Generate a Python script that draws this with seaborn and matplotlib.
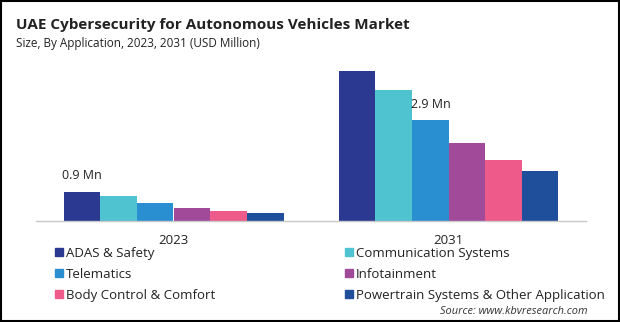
import matplotlib
matplotlib.use("Agg")
import matplotlib.pyplot as plt
from matplotlib.lines import Line2D
from matplotlib.patches import Rectangle
import seaborn as sns
import pandas as pd

years = ["2023", "2031"]
applications = ["ADAS & Safety", "Communication Systems", "Telematics",
                "Infotainment", "Body Control & Comfort",
                "Powertrain Systems & Other Application"]
values_2023 = [0.90, 0.78, 0.56, 0.40, 0.31, 0.25]
values_2031 = [4.66, 4.07, 3.14, 2.42, 1.89, 1.55]
colors = ["#2B3990", "#4FC3CF", "#2A8FD0", "#A24A9A", "#EE5A8A", "#1F4E9A"]
labels = ["0.9 Mn", "2.9 Mn"]

rows = []
for app, v1, v2 in zip(applications, values_2023, values_2031):
    rows.append({"Year": years[0], "Application": app, "Value": v1})
    rows.append({"Year": years[1], "Application": app, "Value": v2})
df = pd.DataFrame(rows)

sns.set_theme(style="white")
plt.rcParams["font.family"] = ["Open Sans", "DejaVu Sans"]

fig = plt.figure(figsize=(6.2, 3.22), dpi=100)
ax = fig.add_axes([36/620, 1-221/322, 550/620, 161/322])
sns.barplot(data=df, x="Year", y="Value", hue="Application",
            hue_order=applications, order=years, palette=colors,
            width=0.8, saturation=1, ax=ax, legend=False, errorbar=None,
            linewidth=0, edgecolor="none")
ax.set_xlim(-0.5, 1.5)
ax.set_ylim(0, 5.0)
ax.set_xlabel("")
ax.set_ylabel("")
ax.set_yticks([])
for s in ["top", "right", "left"]:
    ax.spines[s].set_visible(False)
ax.spines["bottom"].set_color("#C8C8C8")
ax.spines["bottom"].set_linewidth(1)
ax.tick_params(axis="x", length=0, pad=9, labelsize=9.5, colors="#222222")

# value annotations
ax.text(-0.335, 1.40, labels[0], ha="center", va="center", fontsize=9, color="#222222")
ax.text(0.935, 3.62, labels[1], ha="center", va="center", fontsize=9, color="#222222")

fig.text(16/620, 1-25/322, "UAE Cybersecurity for Autonomous Vehicles Market",
         fontsize=11, fontweight="bold", color="#222222", va="center", ha="left")
fig.text(16/620, 1-44/322, "Size, By Application, 2023, 2031 (USD Million)",
         fontsize=8.5, color="#222222", va="center", ha="left")

handles = [Line2D([0], [0], marker="s", linestyle="", markersize=6,
                  markerfacecolor=c, markeredgecolor=c) for c in colors]
left_idx = [0, 2, 4]
right_idx = [1, 3, 5]
for idx, x0 in [(left_idx, 55/620), (right_idx, 345/620)]:
    leg = fig.legend([handles[i] for i in idx], [applications[i] for i in idx],
                     loc="upper left", bbox_to_anchor=(x0, 1-247/322),
                     frameon=False, fontsize=9.5, handlelength=0.6,
                     handletextpad=0.2, labelspacing=0.6, borderpad=0,
                     borderaxespad=0)
    for t in leg.get_texts():
        t.set_color("#222222")

fig.text(588/620, 1-311/322, "Source: www.kbvresearch.com", fontsize=7.9,
         style="italic", color="#333333", ha="right", va="center")

fig.patches.append(Rectangle((0.001, 0.002), 0.997, 0.995, transform=fig.transFigure,
                             fill=False, edgecolor="black", linewidth=1.5))

fig.savefig("out.png", dpi=100)
